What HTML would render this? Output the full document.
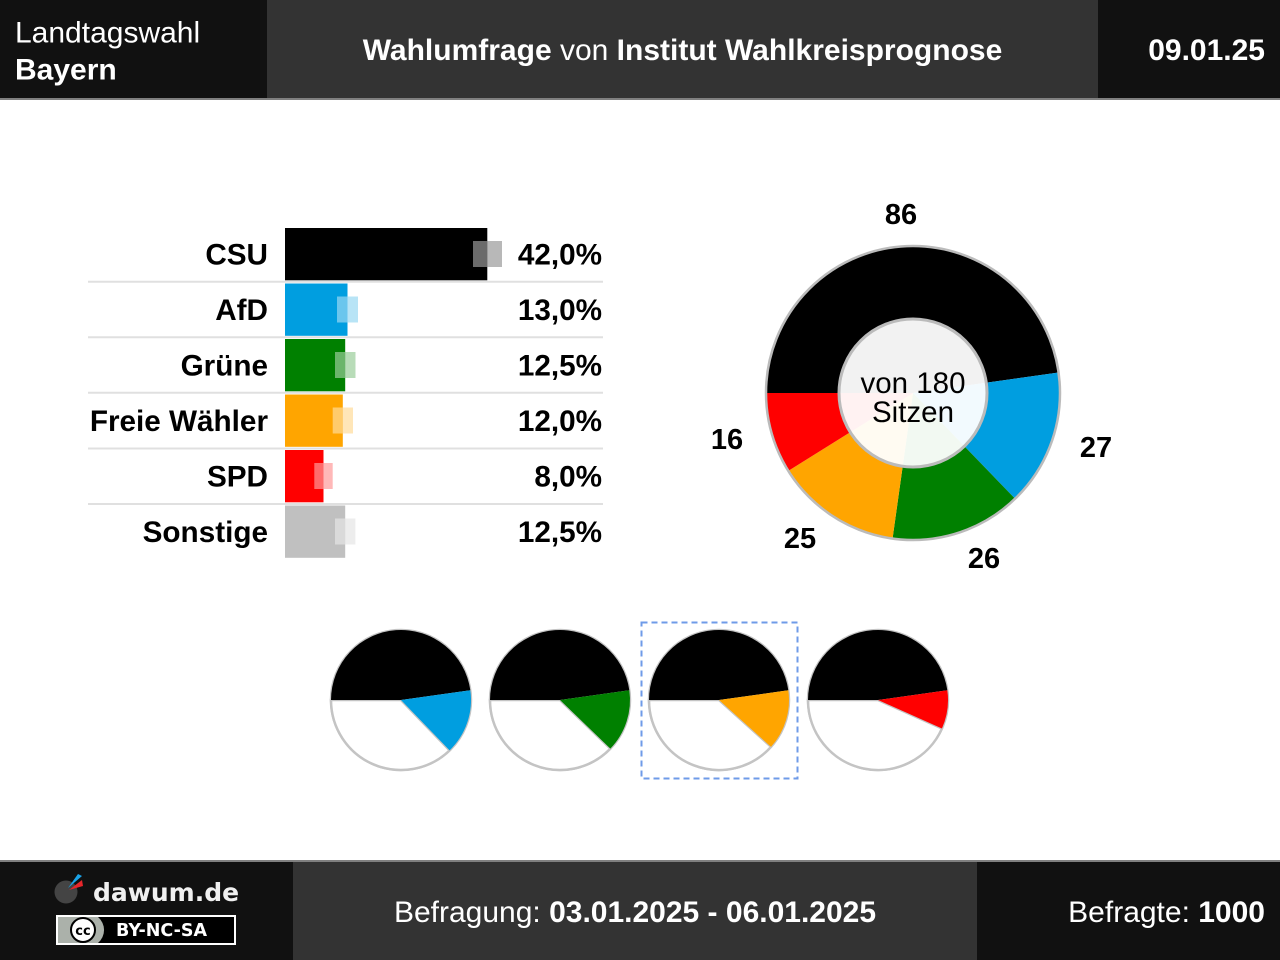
<!DOCTYPE html>
<html><head><meta charset="utf-8"><style>
html,body{margin:0;padding:0;background:#fff;}
svg{display:block;}
text{font-family:"Liberation Sans",Arial,sans-serif;}
</style></head><body>
<svg width="1280" height="960" viewBox="0 0 1280 960" xmlns="http://www.w3.org/2000/svg">
<!-- header -->
<rect x="0" y="0" width="1280" height="98" fill="#333"/>
<rect x="0" y="0" width="267" height="98" fill="#111"/>
<rect x="1098" y="0" width="182" height="98" fill="#111"/>
<rect x="0" y="98" width="1280" height="2" fill="#808080"/>
<text x="15" y="42.5" font-size="30" fill="#fff">Landtagswahl</text>
<text x="15" y="79.5" font-size="30" font-weight="bold" fill="#fff">Bayern</text>
<text x="682.5" y="60" font-size="30" fill="#fff" text-anchor="middle"><tspan font-weight="bold">Wahlumfrage</tspan> von <tspan font-weight="bold">Institut Wahlkreisprognose</tspan></text>
<text x="1265" y="60" font-size="30" font-weight="bold" fill="#fff" text-anchor="end">09.01.25</text>

<!-- bars -->
<g font-size="29.7" font-weight="bold" fill="#000">
<text x="268" y="264.5" text-anchor="end">CSU</text>
<text x="268" y="320" text-anchor="end">AfD</text>
<text x="268" y="375.5" text-anchor="end">Grüne</text>
<text x="268" y="431" text-anchor="end">Freie Wähler</text>
<text x="268" y="486.5" text-anchor="end">SPD</text>
<text x="268" y="542" text-anchor="end">Sonstige</text>
<text x="602" y="264.5" text-anchor="end">42,0%</text>
<text x="602" y="320" text-anchor="end">13,0%</text>
<text x="602" y="375.5" text-anchor="end">12,5%</text>
<text x="602" y="431" text-anchor="end">12,0%</text>
<text x="602" y="486.5" text-anchor="end">8,0%</text>
<text x="602" y="542" text-anchor="end">12,5%</text>
</g>
<g stroke="#e0e0e0" stroke-width="2">
<line x1="88" y1="281.7" x2="603" y2="281.7"/>
<line x1="88" y1="337.3" x2="603" y2="337.3"/>
<line x1="88" y1="392.8" x2="603" y2="392.8"/>
<line x1="88" y1="448.5" x2="603" y2="448.5"/>
<line x1="88" y1="504" x2="603" y2="504"/>
</g>
<rect x="285" y="228" width="202.3" height="52.3" fill="#000"/>
<rect x="285" y="283.5" width="62.5" height="52.3" fill="#009ee0"/>
<rect x="285" y="339" width="60.2" height="52.3" fill="#008000"/>
<rect x="285" y="394.5" width="57.8" height="52.3" fill="#ffa500"/>
<rect x="285" y="450" width="38.5" height="52.3" fill="#ff0000"/>
<rect x="285" y="505.5" width="60.2" height="52.3" fill="#c0c0c0"/>
<!-- markers -->
<g>
<rect x="473" y="241" width="14.3" height="26" fill="#fff" fill-opacity="0.42"/>
<rect x="487.3" y="241" width="14.7" height="26" fill="#000" fill-opacity="0.28"/>
<rect x="337" y="296.5" width="10.5" height="26" fill="#fff" fill-opacity="0.42"/>
<rect x="347.5" y="296.5" width="10.5" height="26" fill="#009ee0" fill-opacity="0.28"/>
<rect x="335" y="352" width="10.2" height="26" fill="#fff" fill-opacity="0.42"/>
<rect x="345.2" y="352" width="10.3" height="26" fill="#008000" fill-opacity="0.28"/>
<rect x="332.7" y="407.5" width="10.1" height="26" fill="#fff" fill-opacity="0.42"/>
<rect x="342.8" y="407.5" width="10.2" height="26" fill="#ffa500" fill-opacity="0.28"/>
<rect x="314.3" y="463" width="9.2" height="26" fill="#fff" fill-opacity="0.42"/>
<rect x="323.5" y="463" width="9.2" height="26" fill="#ff0000" fill-opacity="0.28"/>
<rect x="335" y="518.5" width="10.2" height="26" fill="#fff" fill-opacity="0.42"/>
<rect x="345.2" y="518.5" width="10.2" height="26" fill="#c0c0c0" fill-opacity="0.28"/>
</g>

<!-- big pie -->
<g>
<path d="M913,393 L766,393 A147,147 0 0 1 1058.57,372.54 Z" fill="#000"/>
<path d="M913,393 L1058.57,372.54 A147,147 0 0 1 1015.11,498.74 Z" fill="#009ee0"/>
<path d="M913,393 L1015.11,498.74 A147,147 0 0 1 892.54,538.57 Z" fill="#008000"/>
<path d="M913,393 L892.54,538.57 A147,147 0 0 1 788.34,470.90 Z" fill="#ffa500"/>
<path d="M913,393 L788.34,470.90 A147,147 0 0 1 766,393 Z" fill="#ff0000"/>
<circle cx="913" cy="393" r="147" fill="none" stroke="#bbb" stroke-width="2.5"/>
<circle cx="913" cy="393" r="74" fill="#fff" fill-opacity="0.95" stroke="#bbb" stroke-width="3"/>
<text x="913" y="393" font-size="29.5" text-anchor="middle" fill="#000">von 180</text>
<text x="913" y="422" font-size="29.5" text-anchor="middle" fill="#000">Sitzen</text>
</g>
<g font-size="29" font-weight="bold" text-anchor="middle" fill="#000">
<text x="901" y="224">86</text>
<text x="1096" y="457">27</text>
<text x="984" y="568">26</text>
<text x="800" y="548">25</text>
<text x="727" y="449">16</text>
</g>

<!-- small pies -->
<g>
<circle cx="401" cy="700" r="70" fill="#fff" stroke="#c4c4c4" stroke-width="2.5"/>
<path d="M401,700 L449.63,750.35 A70,70 0 0 1 331,700 Z" fill="#fff" stroke="#c4c4c4" stroke-width="2.5"/>
<path d="M401,700 L331,700 A70,70 0 0 1 470.32,690.26 Z" fill="#000"/>
<path d="M401,700 L470.32,690.26 A70,70 0 0 1 449.63,750.35 Z" fill="#009ee0"/>
<circle cx="560" cy="700" r="70" fill="#fff" stroke="#c4c4c4" stroke-width="2.5"/>
<path d="M560,700 L610.35,748.63 A70,70 0 0 1 490,700 Z" fill="#fff" stroke="#c4c4c4" stroke-width="2.5"/>
<path d="M560,700 L490,700 A70,70 0 0 1 629.32,690.26 Z" fill="#000"/>
<path d="M560,700 L629.32,690.26 A70,70 0 0 1 610.35,748.63 Z" fill="#008000"/>
<circle cx="719" cy="700" r="70" fill="#fff" stroke="#c4c4c4" stroke-width="2.5"/>
<path d="M719,700 L771.02,746.84 A70,70 0 0 1 649,700 Z" fill="#fff" stroke="#c4c4c4" stroke-width="2.5"/>
<path d="M719,700 L649,700 A70,70 0 0 1 788.32,690.26 Z" fill="#000"/>
<path d="M719,700 L788.32,690.26 A70,70 0 0 1 771.02,746.84 Z" fill="#ffa500"/>
<circle cx="878" cy="700" r="70" fill="#fff" stroke="#c4c4c4" stroke-width="2.5"/>
<path d="M878,700 L941.95,728.47 A70,70 0 0 1 808,700 Z" fill="#fff" stroke="#c4c4c4" stroke-width="2.5"/>
<path d="M878,700 L808,700 A70,70 0 0 1 947.32,690.26 Z" fill="#000"/>
<path d="M878,700 L947.32,690.26 A70,70 0 0 1 941.95,728.47 Z" fill="#ff0000"/>
<rect x="641.5" y="622.5" width="156" height="156" fill="none" stroke="#6f9be8" stroke-width="2" stroke-dasharray="6,4"/>
</g>

<!-- footer -->
<rect x="0" y="860" width="1280" height="2" fill="#808080"/>
<rect x="0" y="862" width="1280" height="98" fill="#333"/>
<rect x="0" y="862" width="293" height="98" fill="#111"/>
<rect x="977" y="862" width="303" height="98" fill="#111"/>
<text x="635" y="922" font-size="30" fill="#fff" text-anchor="middle">Befragung: <tspan font-weight="bold">03.01.2025 - 06.01.2025</tspan></text>
<text x="1265" y="922" font-size="30" fill="#fff" text-anchor="end">Befragte: <tspan font-weight="bold">1000</tspan></text>
<!-- logo -->
<circle cx="66" cy="892" r="11.5" fill="#444"/>
<polygon points="68,888 78,874 82,876" fill="#1aa3e8"/>
<polygon points="69,890 82,880 83,886" fill="#e8262b"/>
<text x="93" y="901" style="font-family:'DejaVu Sans',sans-serif;font-size:25px;font-weight:bold" fill="#f0f0f0">dawum.de</text>
<rect x="57" y="916" width="178" height="28" fill="#000" stroke="#fff" stroke-width="2"/>
<path d="M58,917 L98,917 A17,17 0 0 1 98,943 L58,943 Z" fill="#abb1aa"/>
<circle cx="83" cy="930" r="12" fill="#fff" stroke="#000" stroke-width="2"/>
<text x="83" y="935" style="font-family:'DejaVu Sans',sans-serif;font-size:13px;font-weight:bold" fill="#000" text-anchor="middle">cc</text>
<text x="116" y="936" style="font-family:'DejaVu Sans',sans-serif;font-size:17.5px;font-weight:bold" fill="#fff">BY-NC-SA</text>
</svg>
</body></html>
